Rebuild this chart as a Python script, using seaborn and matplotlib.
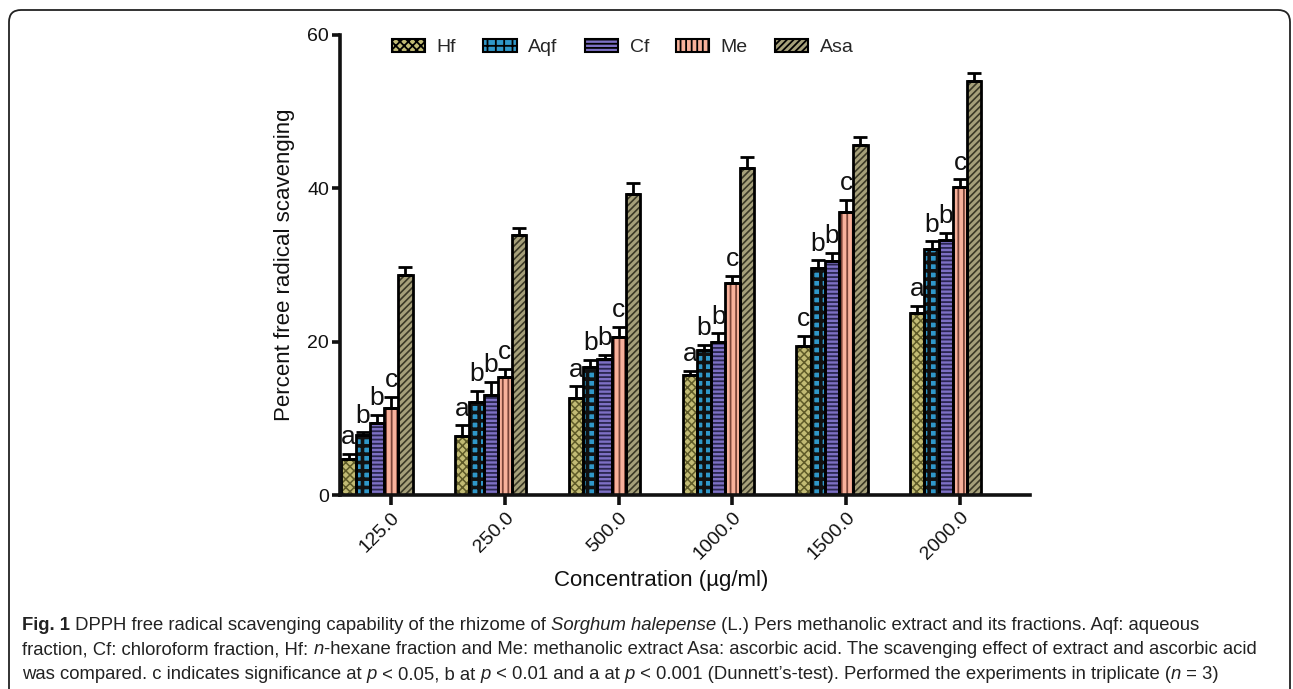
import numpy as np
import pandas as pd
import matplotlib
matplotlib.use('Agg')
import matplotlib.pyplot as plt
import seaborn as sns
from matplotlib.patches import Rectangle, FancyBboxPatch, Patch
from matplotlib.transforms import IdentityTransform

# ---- data ----
concs = ['125.0', '250.0', '500.0', '1000.0', '1500.0', '2000.0']
series = ['Hf', 'Aqf', 'Cf', 'Me', 'Asa']

hf = [4.7, 7.7, 12.7, 15.6, 19.5, 23.8]
aqf = [7.8, 12.1, 16.7, 18.9, 29.6, 32.1]
cf = [9.4, 13.1, 17.7, 19.9, 30.5, 33.2]
me = [11.3, 15.4, 20.6, 27.6, 36.9, 40.2]
asa = [28.7, 33.9, 39.3, 42.6, 45.7, 54.0]

hf_err = [0.7, 1.4, 1.5, 0.6, 1.3, 0.9]
aqf_err = [0.4, 1.5, 0.9, 0.7, 1.0, 1.0]
cf_err = [1.1, 1.7, 0.6, 1.2, 1.1, 1.0]
me_err = [1.5, 1.1, 1.3, 1.0, 1.6, 1.0]
asa_err = [1.1, 0.9, 1.4, 1.5, 1.0, 1.1]

hf_sig = ['a', 'a', 'a', 'a', 'c', 'a']
aqf_sig = ['b', 'b', 'b', 'b', 'b', 'b']
cf_sig = ['b', 'b', 'b', 'b', 'b', 'b']
me_sig = ['c', 'c', 'c', 'c', 'c', 'c']

values = [hf, aqf, cf, me, asa]
errors = [hf_err, aqf_err, cf_err, me_err, asa_err]
sigs = [hf_sig, aqf_sig, cf_sig, me_sig, None]

fills = ['#c2bb74', '#2f97c9', '#7d70c4', '#f8b19b', '#a6a07a']
hatch_cols = ['#5e5a28', '#111111', '#2a2650', '#7a4438', '#3a3826']
hatches = ['xxxx', '++', '----', '|||', '/////']
hatch_lws = [1.1, 2.6, 1.3, 1.3, 1.2]

df = pd.DataFrame({
    'conc': [c for s in series for c in concs],
    'series': [s for s in series for c in concs],
    'value': [v for vals in values for v in vals],
})

sns.set_style('white')
plt.rcParams['font.family'] = ['Liberation Sans', 'DejaVu Sans']
plt.rcParams['hatch.linewidth'] = 1.3

fig = plt.figure(figsize=(12.93, 6.89), dpi=100)
ax = fig.add_axes([340 / 1293, 194 / 689, 690 / 1293, 460 / 689])

sns.barplot(data=df, x='conc', y='value', hue='series', order=concs, hue_order=series,
            palette=fills, width=0.625, gap=0, errorbar=None, linewidth=0,
            edgecolor='none', saturation=1, legend=False, ax=ax)

bar_conts = list(ax.containers)

# hatching + outlines, error bars and letters, all placed from seaborn's bars
for i, cont in enumerate(bar_conts):
    xs, tops = [], []
    for p in cont.patches:
        x0, w, h = p.get_x(), p.get_width(), p.get_height()
        hp = Rectangle((x0, 0), w, h, facecolor='none', edgecolor=hatch_cols[i],
                       linewidth=0, hatch=hatches[i], zorder=2.1)
        if hasattr(hp, 'set_hatch_linewidth'):
            hp.set_hatch_linewidth(hatch_lws[i])
        ax.add_patch(hp)
        ax.add_patch(Rectangle((x0, 0), w, h, facecolor='none', edgecolor='black',
                               linewidth=2.0, zorder=2.2))
        xs.append(x0 + w / 2)
        tops.append(h)
    err = np.array(errors[i])
    ax.errorbar(xs, tops, yerr=[np.zeros(len(err)), err], fmt='none', ecolor='black',
                elinewidth=2.0, capsize=5, capthick=2.0, zorder=2.3)
    if sigs[i] is not None:
        for x, t, e, s in zip(xs, tops, err, sigs[i]):
            ax.text(x, t + e + 0.6, s, ha='center', va='bottom', fontsize=19, color='#111')

me_centers = [p.get_x() + p.get_width() / 2 for p in bar_conts[3].patches]
ax.set_xticks(me_centers)
ax.set_xticklabels(concs, rotation=45, ha='right', rotation_mode='anchor')
ax.set_xlim(-0.325, 5.74)
ax.set_ylim(0, 60)
ax.set_yticks([0, 20, 40, 60])

for sp in ['top', 'right']:
    ax.spines[sp].set_visible(False)
for sp in ['left', 'bottom']:
    ax.spines[sp].set_linewidth(2.6)
    ax.spines[sp].set_color('#111')
ax.tick_params(axis='x', direction='out', length=7, width=2.6, labelsize=14, pad=3,
               bottom=True, colors='#111')
ax.tick_params(axis='y', direction='out', length=6, width=2.6, labelsize=14, pad=2,
               left=True, colors='#111')

ax.set_xlabel('Concentration (µg/ml)', fontsize=16, color='#111')
ax.xaxis.set_label_coords(0.465, -0.185)
ax.xaxis.label.set_va('center')
ax.set_ylabel('Percent free radical scavenging', fontsize=16, color='#111')
ax.yaxis.set_label_coords(-0.08, 0.5)
ax.yaxis.label.set_va('center')

handles = [Patch(facecolor=fills[i], edgecolor='black', hatch=hatches[i], linewidth=1.5)
           for i in range(len(series))]
ax.legend(handles, series, loc='center', bbox_to_anchor=(0.41, 0.972), ncol=5,
          frameon=False, fontsize=14, handlelength=1.7, handleheight=0.6,
          handletextpad=0.6, columnspacing=1.4)

# outer frame of the figure panel
fig.patches.append(FancyBboxPatch((9, -40), 1281, 719, boxstyle='round,pad=0,rounding_size=12',
                                  transform=IdentityTransform(), facecolor='none',
                                  edgecolor='#222', linewidth=1.3, figure=fig))

# caption
cap_lines = [
    [('Fig. 1', 'b'), (' DPPH free radical scavenging capability of the rhizome of ', 'n'),
     ('Sorghum halepense', 'i'), (' (L.) Pers methanolic extract and its fractions. Aqf: aqueous', 'n')],
    [('fraction, Cf: chloroform fraction, Hf: ', 'n'), ('n', 'i'),
     ('-hexane fraction and Me: methanolic extract Asa: ascorbic acid. The scavenging effect of extract and ascorbic acid', 'n')],
    [('was compared. c indicates significance at ', 'n'), ('p', 'i'), (' < 0.05, b at ', 'n'), ('p', 'i'),
     (' < 0.01 and a at ', 'n'), ('p', 'i'),
     (' < 0.001 (Dunnett\u2019s-test). Performed the experiments in triplicate (', 'n'), ('n', 'i'), (' = 3)', 'n')],
]
cap_targets = [1237 - 22, 1276 - 22, 1222 - 22]
cap_family = ['Liberation Sans Narrow', 'Liberation Sans', 'DejaVu Sans']
renderer = fig.canvas.get_renderer()


def run_width(s, style, size):
    kw = dict(fontsize=size, family=cap_family,
              weight='bold' if style == 'b' else 'normal',
              style='italic' if style == 'i' else 'normal')
    t1 = fig.text(0, 0, '|' + s + '|', transform=IdentityTransform(), **kw)
    t2 = fig.text(0, 0, '||', transform=IdentityTransform(), **kw)
    w = t1.get_window_extent(renderer).width - t2.get_window_extent(renderer).width
    t1.remove()
    t2.remove()
    return w


base = 12
cap_size = min(base * tw / sum(run_width(s, st, base) for s, st in line)
               for line, tw in zip(cap_lines, cap_targets))

for k, line in enumerate(cap_lines):
    x = 22
    y = 689 - (630 + 24.5 * k)
    for s, st in line:
        fig.text(x, y, s, transform=IdentityTransform(), fontsize=cap_size, family=cap_family,
                 weight='bold' if st == 'b' else 'normal',
                 style='italic' if st == 'i' else 'normal', color='#222', va='baseline')
        x += run_width(s, st, cap_size)

fig.savefig('out.png', dpi=100)
